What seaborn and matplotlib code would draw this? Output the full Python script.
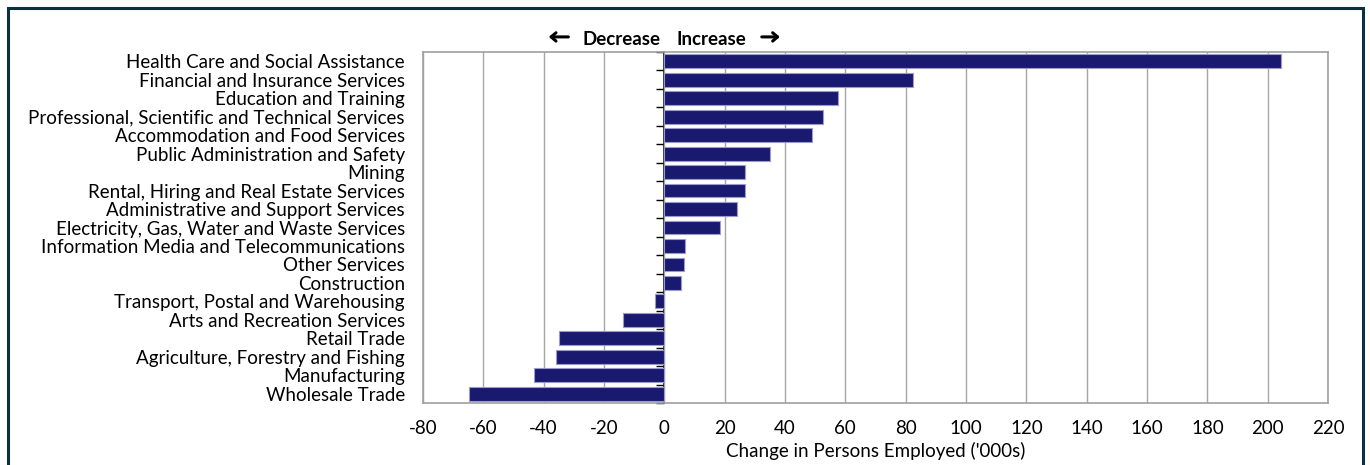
import matplotlib
matplotlib.use("Agg")
import matplotlib.pyplot as plt
import seaborn as sns
import pandas as pd
from matplotlib.patches import Rectangle

categories = [
    "Health Care and Social Assistance",
    "Financial and Insurance Services",
    "Education and Training",
    "Professional, Scientific and Technical Services",
    "Accommodation and Food Services",
    "Public Administration and Safety",
    "Mining",
    "Rental, Hiring and Real Estate Services",
    "Administrative and Support Services",
    "Electricity, Gas, Water and Waste Services",
    "Information Media and Telecommunications",
    "Other Services",
    "Construction",
    "Transport, Postal and Warehousing",
    "Arts and Recreation Services",
    "Retail Trade",
    "Agriculture, Forestry and Fishing",
    "Manufacturing",
    "Wholesale Trade",
]
values = [204.5, 82.5, 57.7, 52.7, 49.1, 35.1, 26.8, 26.8, 24.2, 18.6,
          7.0, 6.4, 5.5, -3.2, -13.6, -34.8, -35.8, -43.3, -64.9]
xticks = list(range(-80, 221, 20))
xlabel = "Change in Persons Employed ('000s)"

sns.set_style("white")
plt.rcParams['font.family'] = ['Lato', 'DejaVu Sans']
plt.rcParams['text.color'] = 'black'
plt.rcParams['xtick.labelcolor'] = 'black'
plt.rcParams['ytick.labelcolor'] = 'black'
plt.rcParams['axes.labelcolor'] = 'black'

df = pd.DataFrame({"category": categories, "value": values})

fig = plt.figure(figsize=(13.7, 4.65), dpi=100)
ax = fig.add_axes([423/1370, 1-403/465, (1328-423)/1370, (403-52)/465])

sns.barplot(data=df, x="value", y="category", orient="h", color="#191970",
            saturation=1, width=0.75, edgecolor="#9a9acb", linewidth=0.8, ax=ax)

ax.set_xlim(-80, 220)
ax.set_ylim(len(categories) - 0.5, -0.5)
ax.set_xticks(xticks)
ax.set_xticklabels([str(t) for t in xticks], fontsize=13.5)
ax.set_xlabel(xlabel, fontsize=13.5, labelpad=4)
ax.set_ylabel("")
ax.tick_params(axis='y', length=0, labelsize=13.5, pad=13)
ax.tick_params(axis='x', length=5, color="#999999", direction='out', pad=7)
ax.grid(axis='x', color="#a6a6a6", linewidth=1)
ax.set_axisbelow(True)
for s in ax.spines.values():
    s.set_visible(True)
    s.set_color("#a0a0a0")
    s.set_linewidth(1.2)

# zero axis line with category-boundary ticks
frac = (0 - (-80)) / 300
sec = ax.secondary_yaxis(frac)
sec.set_yticks([i + 0.5 for i in range(-1, len(categories))])
sec.set_yticklabels([])
sec.tick_params(axis='y', length=6, color="black", width=1, direction='out')
sec.spines['left'].set_color("black")
sec.spines['left'].set_linewidth(1.2)

# Decrease / Increase annotation
tr = ax.get_xaxis_transform()
ax.text(-1.2, 1.01, "Decrease", transform=tr, ha='right', va='bottom',
        fontsize=13.5, fontweight='bold')
ax.text(4.0, 1.01, "Increase", transform=tr, ha='left', va='bottom',
        fontsize=13.5, fontweight='bold')
arrow_style = dict(arrowstyle="->,head_length=0.35,head_width=0.3",
                   lw=2.2, color="black", shrinkA=0, shrinkB=0)
ax.annotate("", xy=(-38.3, 1.043), xytext=(-31.8, 1.043), xycoords=tr,
            textcoords=tr, arrowprops=arrow_style, annotation_clip=False)
ax.annotate("", xy=(38.3, 1.043), xytext=(32.3, 1.043), xycoords=tr,
            textcoords=tr, arrowprops=arrow_style, annotation_clip=False)

# outer frame
fig.patches.append(Rectangle((8/1370, -0.05), (1363-8)/1370, 1.05 - 8/465,
                             transform=fig.transFigure, fill=False,
                             edgecolor="#0b3140", linewidth=2.2))

fig.savefig("out.png", dpi=100)
